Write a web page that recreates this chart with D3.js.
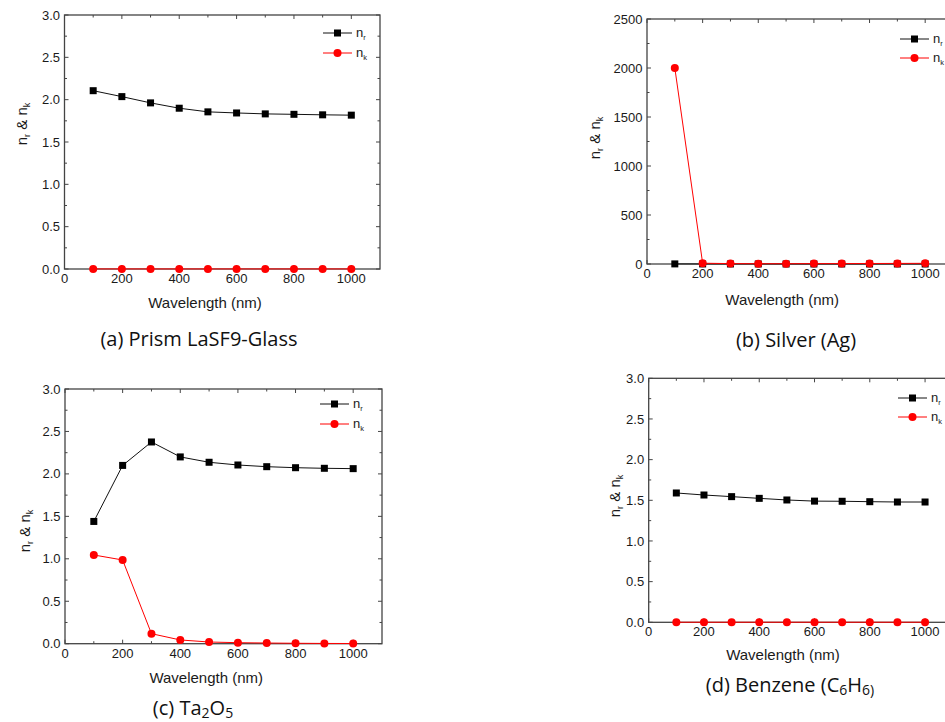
<!DOCTYPE html>
<html lang="en">
<head>
<meta charset="utf-8">
<title>Optical constants</title>
<style>
  body { margin: 0; background: #fff; }
  svg { display: block; }
  .tick-label { font-family: "Liberation Sans", Arial, sans-serif; font-size: 13px; fill: #1a1a1a; }
  .axis-title { font-family: "Liberation Sans", Arial, sans-serif; font-size: 15px; fill: #1a1a1a; }
  .legend { font-family: "Liberation Sans", Arial, sans-serif; font-size: 13px; fill: #1a1a1a; }
  .caption { font-family: "Open Sans", "Noto Sans", sans-serif; font-size: 20px; fill: #111; }
</style>
</head>
<body>
<svg id="chart" width="945" height="722"></svg>
<script src="https://d3js.org/d3.v7.min.js"></script>
<script>
    // wavelength samples (nm)
    const wavelength = [100, 200, 300, 400, 500, 600, 700, 800, 900, 1000]

    // (a) prism LaSF9 glass
    const glassNr = [2.106, 2.036, 1.962, 1.899, 1.856, 1.843, 1.832, 1.827, 1.821, 1.817]
    const glassNk = [0.001, 0.001, 0.001, 0.001, 0.001, 0.001, 0.001, 0.001, 0.001, 0.001]

    // (b) silver
    const silverNr = [1.0, 0.5, 0.3, 0.2, 0.15, 0.15, 0.15, 0.15, 0.2, 0.2]
    const silverNk = [2000, 8, 4, 3, 3, 4, 4, 5, 6, 7]

    // (c) Ta2O5
    const taNr = [1.44, 2.10, 2.376, 2.20, 2.137, 2.105, 2.085, 2.073, 2.066, 2.062]
    const taNk = [1.045, 0.986, 0.118, 0.044, 0.02, 0.012, 0.008, 0.005, 0.003, 0.002]

    // (d) benzene
    const benzNr = [1.59, 1.565, 1.545, 1.524, 1.504, 1.49, 1.488, 1.483, 1.479, 1.479]
    const benzNk = [0.001, 0.001, 0.001, 0.001, 0.001, 0.001, 0.001, 0.001, 0.001, 0.001]

    const xDomain = [0, 1100]
    const xTicks = [0, 200, 400, 600, 800, 1000]
    const xMinor = d3.range(100, 1100, 200)
    const indexTicks = [0, 0.5, 1.0, 1.5, 2.0, 2.5, 3.0]
    const indexMinor = [0.25, 0.75, 1.25, 1.75, 2.25, 2.75]
    const silverTicks = [0, 500, 1000, 1500, 2000, 2500]
    const silverMinor = [250, 750, 1250, 1750, 2250]

    const svg = d3.select("#chart")

    const panels = [
        { nr: glassNr, nk: glassNk, yMax: 3, yTicks: indexTicks, yMinor: indexMinor, fmt: d3.format(".1f"),
          left: 64.5, top: 15, width: 315.5, height: 254,
          titleX: 490, titleY: 308, yTitleX: 27, yTitleY: 124,
          legX: 323, legY: 33, legGap: 20,
          caption: [["(a) Prism LaSF9-Glass", false]], capX: 199, capY: 346 },
        { nr: silverNr, nk: silverNk, yMax: 2500, yTicks: silverTicks, yMinor: silverMinor, fmt: d3.format("d"),
          left: 647, top: 19, width: 306, height: 245,
          titleX: 486, titleY: 305, yTitleX: 600, yTitleY: 138,
          legX: 900, legY: 39, legGap: 19,
          caption: [["(b) Silver (Ag)", false]], capX: 796, capY: 347 },
        { nr: taNr, nk: taNk, yMax: 3, yTicks: indexTicks, yMinor: indexMinor, fmt: d3.format(".1f"),
          left: 65, top: 389, width: 317, height: 254.7,
          titleX: 490, titleY: 683, yTitleX: 30, yTitleY: 531,
          legX: 320, legY: 404, legGap: 20,
          caption: [["(c) Ta", false], ["2", true], ["O", false], ["5", true]], capX: 193, capY: 715 },
        { nr: benzNr, nk: benzNk, yMax: 3, yTicks: indexTicks, yMinor: indexMinor, fmt: d3.format(".1f"),
          left: 648.7, top: 378.3, width: 304, height: 244,
          titleX: 486, titleY: 660, yTitleX: 620, yTitleY: 496,
          legX: 898, legY: 398, legGap: 19,
          caption: [["(d) Benzene (C", false], ["6", true], ["H", false], ["6)", true]], capX: 790, capY: 692 }
    ]

    panels.forEach(drawPanel)

    function drawPanel(p) {
        let g = svg.append("g")
        let x = d3.scaleLinear().domain(xDomain).range([p.left, p.left + p.width])
        let y = d3.scaleLinear().domain([0, p.yMax]).range([p.top + p.height, p.top])
        let x0 = p.left, x1 = p.left + p.width, y0 = p.top + p.height, y1 = p.top

        // frame
        g.append("rect")
            .attr("x", x0).attr("y", y1)
            .attr("width", p.width).attr("height", p.height)
            .attr("fill", "none").attr("stroke", "#444").attr("stroke-width", 1.3)

        // inward ticks on four sides
        let ticks = g.append("g").attr("stroke", "#444").attr("stroke-width", 1)
        function xt(vals, len) {
            vals.forEach(v => {
                ticks.append("line").attr("x1", x(v)).attr("x2", x(v)).attr("y1", y0).attr("y2", y0 - len)
                ticks.append("line").attr("x1", x(v)).attr("x2", x(v)).attr("y1", y1).attr("y2", y1 + len)
            })
        }
        function yt(vals, len) {
            vals.forEach(v => {
                ticks.append("line").attr("y1", y(v)).attr("y2", y(v)).attr("x1", x0).attr("x2", x0 + len)
                ticks.append("line").attr("y1", y(v)).attr("y2", y(v)).attr("x1", x1).attr("x2", x1 - len)
            })
        }
        xt(xTicks, 4); xt(xMinor, 2.5)
        yt(p.yTicks, 4); yt(p.yMinor, 2.5)

        g.selectAll(".xl").data(xTicks).enter().append("text")
            .attr("class", "tick-label")
            .attr("x", d => x(d)).attr("y", y0 + 14)
            .attr("text-anchor", "middle")
            .text(d => d)
        g.selectAll(".yl").data(p.yTicks).enter().append("text")
            .attr("class", "tick-label")
            .attr("x", x0 - 4.5).attr("y", d => y(d)).attr("dy", "0.35em")
            .attr("text-anchor", "end")
            .text(d => p.fmt(d))

        g.append("text").attr("class", "axis-title")
            .attr("x", x(p.titleX)).attr("y", p.titleY)
            .attr("text-anchor", "middle")
            .text("Wavelength (nm)")

        let yt2 = g.append("text").attr("class", "axis-title")
            .attr("transform", `translate(${p.yTitleX},${p.yTitleY}) rotate(-90)`)
            .attr("text-anchor", "middle")
        yt2.append("tspan").text("n")
        yt2.append("tspan").attr("font-size", "9px").attr("dy", 3).text("r")
        yt2.append("tspan").attr("dy", -3).text(" & n")
        yt2.append("tspan").attr("font-size", "9px").attr("dy", 3).text("k")

        // series
        let line = d3.line().x((d, i) => x(wavelength[i])).y(d => y(d))
        g.append("path").datum(p.nr).attr("d", line)
            .attr("fill", "none").attr("stroke", "#111").attr("stroke-width", 1)
        g.append("path").datum(p.nk).attr("d", line)
            .attr("fill", "none").attr("stroke", "#f00").attr("stroke-width", 1)

        g.selectAll(".sq").data(p.nr).enter().append("rect")
            .attr("x", (d, i) => x(wavelength[i]) - 3.5).attr("y", d => y(d) - 3.5)
            .attr("width", 7).attr("height", 7).attr("fill", "#000")
        g.selectAll(".ci").data(p.nk).enter().append("circle")
            .attr("cx", (d, i) => x(wavelength[i])).attr("cy", d => y(d))
            .attr("r", 4).attr("fill", "#f00")

        // legend
        let items = [["r", "#111", "sq"], ["k", "#f00", "ci"]]
        items.forEach((it, i) => {
            let ly = p.legY + i * p.legGap
            g.append("line").attr("x1", p.legX).attr("x2", p.legX + 29)
                .attr("y1", ly).attr("y2", ly).attr("stroke", it[1]).attr("stroke-width", 1)
            if (it[2] == "sq") {
                g.append("rect").attr("x", p.legX + 14.5 - 3.5).attr("y", ly - 3.5)
                    .attr("width", 7).attr("height", 7).attr("fill", "#000")
            } else {
                g.append("circle").attr("cx", p.legX + 14.5).attr("cy", ly).attr("r", 4).attr("fill", "#f00")
            }
            let t = g.append("text").attr("class", "legend")
                .attr("x", p.legX + 33).attr("y", ly + 4)
            t.append("tspan").text("n")
            t.append("tspan").attr("font-size", "7.5px").attr("dy", 3).text(it[0])
        })

        // caption
        let c = g.append("text").attr("class", "caption")
            .attr("x", p.capX).attr("y", p.capY).attr("text-anchor", "middle")
        let sub = false
        p.caption.forEach(part => {
            let ts = c.append("tspan").text(part[0])
            if (part[1] && !sub) { ts.attr("font-size", "14px").attr("dy", 3); sub = true }
            else if (!part[1] && sub) { ts.attr("dy", -3); sub = false }
        })
    }
</script>
</body>
</html>
